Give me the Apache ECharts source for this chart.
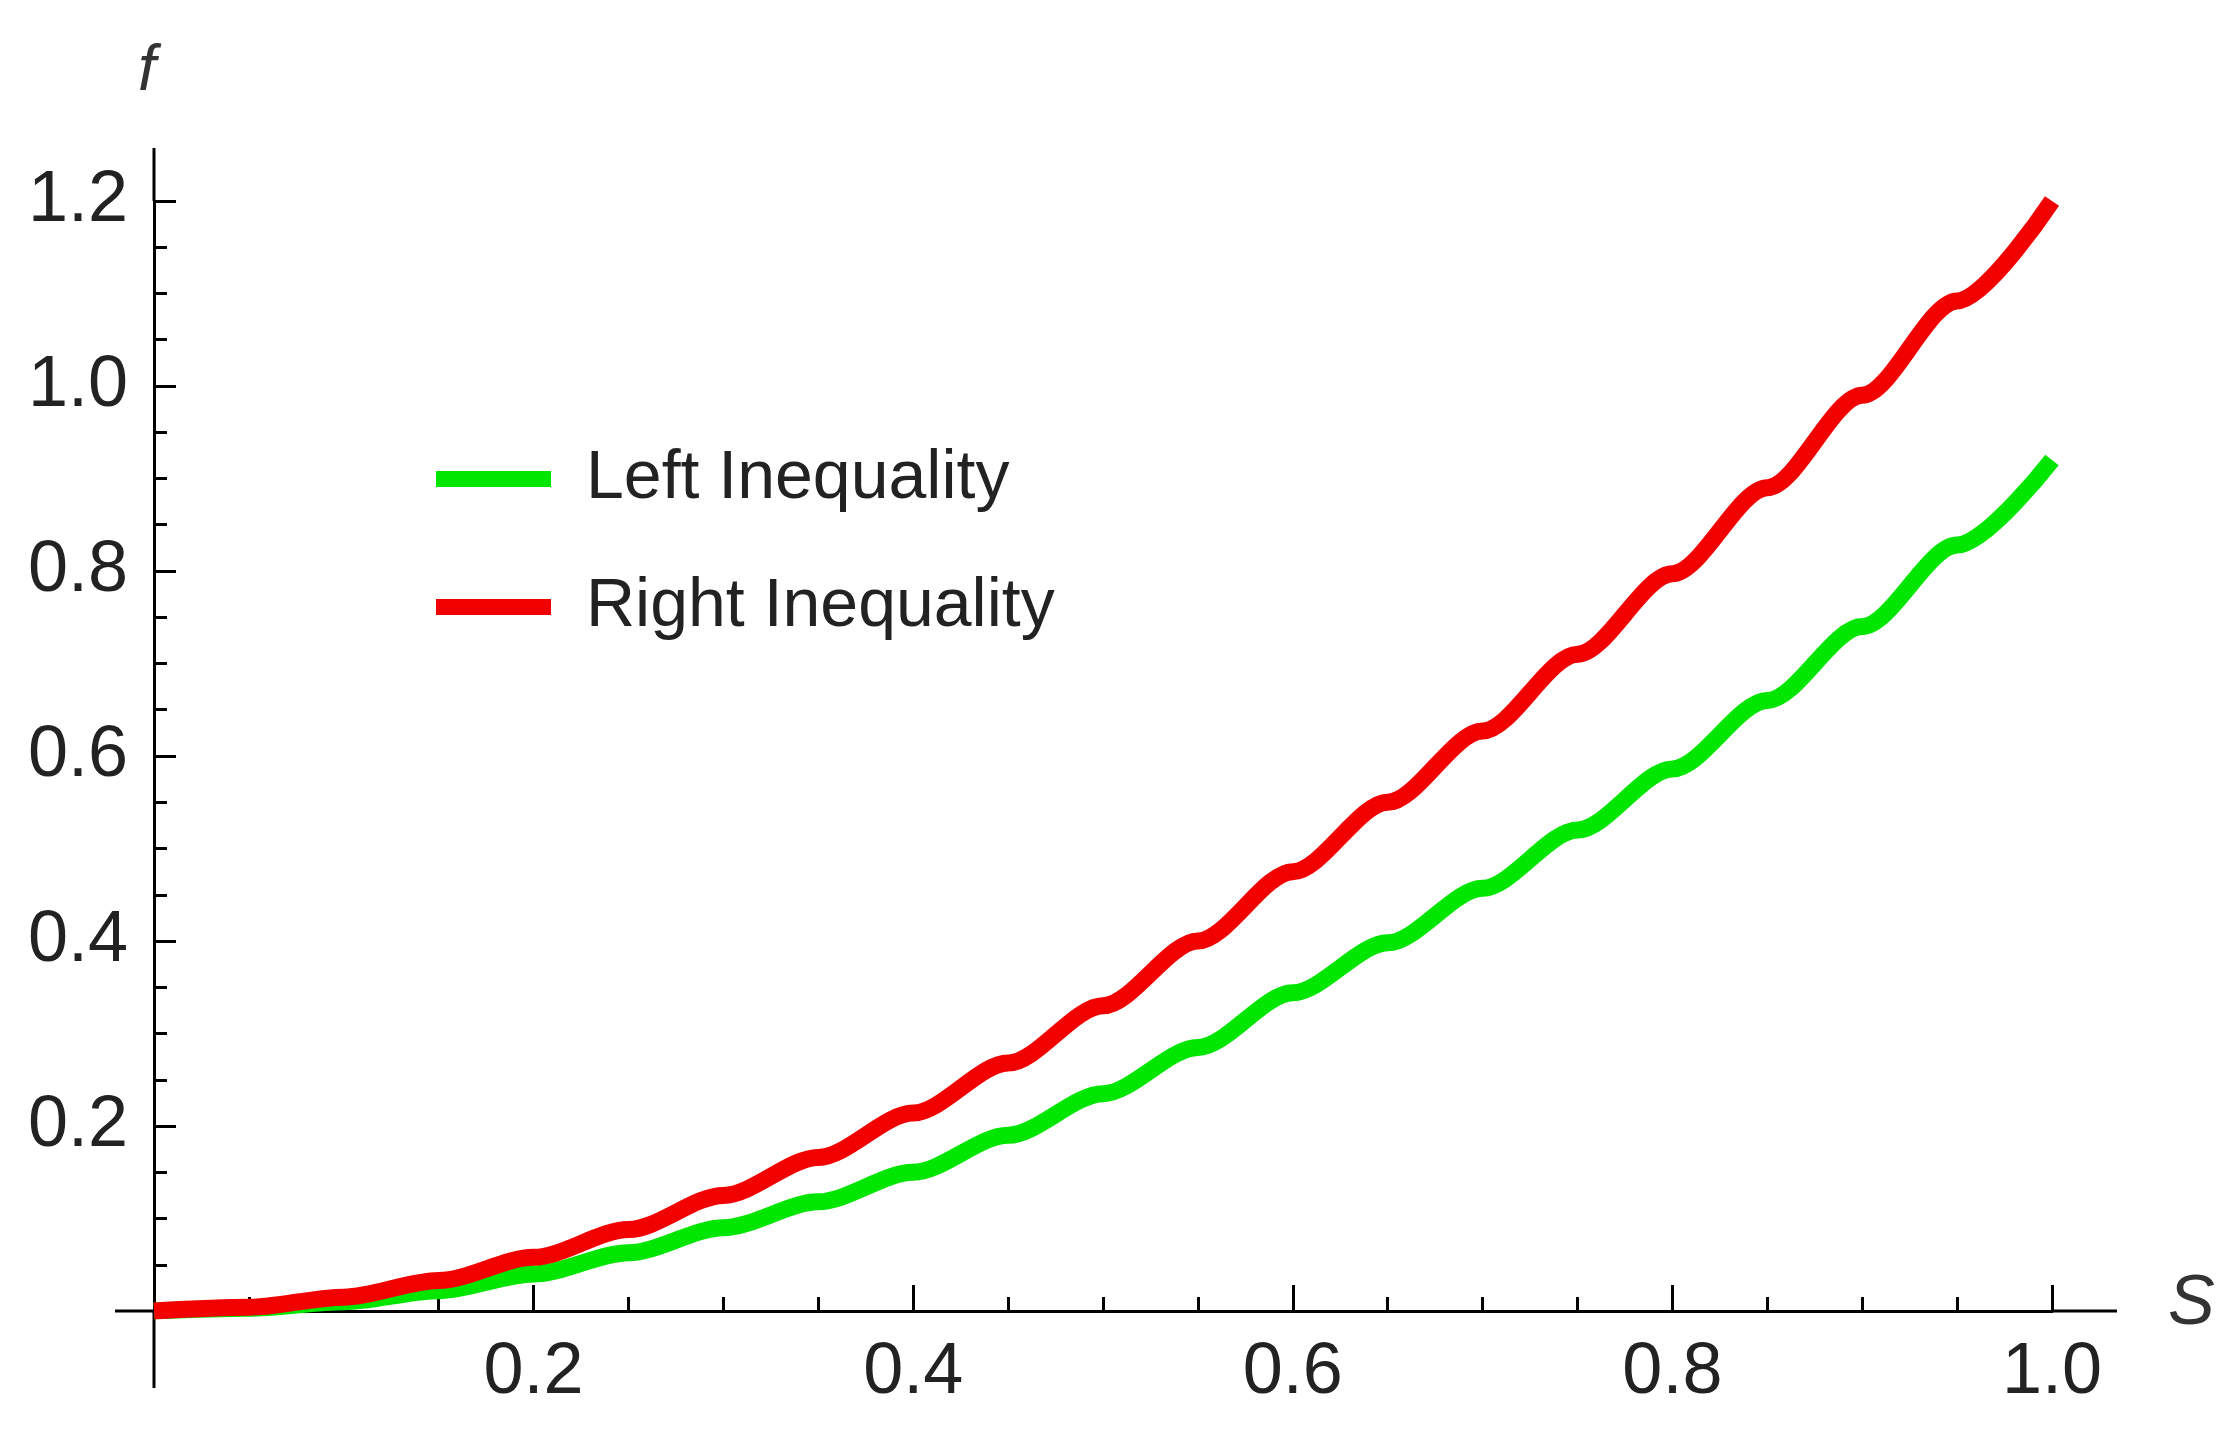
<!DOCTYPE html>
<html>
<head>
<meta charset="utf-8">
<script src="https://cdn.jsdelivr.net/npm/echarts@6/dist/echarts.min.js"></script>
<style>html,body{margin:0;background:#fff}#chart{width:2222px;height:1445px}</style>
</head>
<body>
<div id="chart"></div>
<script>
// values
var sVals = [0, 0.05, 0.1, 0.15, 0.2, 0.25, 0.3, 0.35, 0.4, 0.45, 0.5, 0.55, 0.6, 0.65, 0.7, 0.75, 0.8, 0.85, 0.9, 0.95, 1.0];
var leftIneq = [0, 0.003, 0.01, 0.022, 0.04, 0.063, 0.09, 0.118, 0.15, 0.19, 0.235, 0.285, 0.344, 0.398, 0.457, 0.52, 0.586, 0.66, 0.74, 0.828, 0.92];
var rightIneq = [0, 0.004, 0.015, 0.033, 0.058, 0.088, 0.125, 0.166, 0.214, 0.268, 0.33, 0.4, 0.475, 0.55, 0.627, 0.71, 0.797, 0.89, 0.99, 1.092, 1.2];
var xTicks = [0.2, 0.4, 0.6, 0.8, 1.0];
var yTicks = [0.2, 0.4, 0.6, 0.8, 1.0, 1.2];

function pairs(ys){
	var out = [];
	for(var i=0;i<sVals.length;i++){ out.push([sVals[i], ys[i]]); }
	return out;
}
function lbl(list){
	return function(v){
		for(var i=0;i<list.length;i++){ if(Math.abs(list[i]-v)<1e-6) return v.toFixed(1); }
		return '';
	};
}
var font = 'Liberation Sans';
var chart = echarts.init(document.getElementById('chart'));
var axisStyle = {lineStyle:{color:'#000',width:3}};
var option = {
	animation:false,
	grid:{left:154, right:170, top:201, bottom:134},
	legend:{
		orient:'vertical', left:431, top:440, itemWidth:115, itemHeight:16, itemGap:60,
		icon:'rect',
		textStyle:{fontFamily:font, fontSize:68, color:'#222', padding:[0,0,0,30]},
		data:['Left Inequality','Right Inequality']
	},
	xAxis:{
		type:'value', min:0, max:1, interval:0.2,
		axisLine:axisStyle,
		axisTick:{inside:true, length:26, lineStyle:{color:'#000',width:3}},
		minorTick:{show:true, splitNumber:4, length:14, lineStyle:{color:'#000',width:3}},
		splitLine:{show:false},
		axisLabel:{formatter:lbl(xTicks), fontFamily:font, fontSize:72, color:'#222', margin:26}
	},
	yAxis:{
		type:'value', min:0, max:1.2, interval:0.2,
		axisLine:axisStyle,
		axisTick:{inside:true, length:22, lineStyle:{color:'#000',width:3}},
		minorTick:{show:true, splitNumber:4, length:13, lineStyle:{color:'#000',width:3}},
		splitLine:{show:false},
		axisLabel:{formatter:lbl(yTicks), fontFamily:font, fontSize:72, color:'#222', margin:26}
	},
	graphic:[
		{type:'line', shape:{x1:115,y1:1311,x2:154,y2:1311}, style:{stroke:'#000',lineWidth:3}},
		{type:'line', shape:{x1:2052,y1:1311,x2:2117,y2:1311}, style:{stroke:'#000',lineWidth:3}},
		{type:'line', shape:{x1:154,y1:148,x2:154,y2:201}, style:{stroke:'#000',lineWidth:3}},
		{type:'line', shape:{x1:154,y1:1311,x2:154,y2:1388}, style:{stroke:'#000',lineWidth:3}},
		{type:'text', left:138, top:40, style:{text:'f', font:'italic 64px "Liberation Sans"', fill:'#333'}},
		{type:'text', left:2168, top:1270, style:{text:'S', font:'italic 70px "Liberation Sans"', fill:'#333'}}
	],
	series:[
		{name:'Left Inequality', type:'line', smooth:0.3, smoothMonotone:'x', showSymbol:false, data:pairs(leftIneq),
			itemStyle:{color:'#00e600'}, lineStyle:{color:'#00e600', width:17}},
		{name:'Right Inequality', type:'line', smooth:0.3, smoothMonotone:'x', showSymbol:false, data:pairs(rightIneq),
			itemStyle:{color:'#f20000'}, lineStyle:{color:'#f20000', width:17}}
	]
};
chart.setOption(option);
</script>
</body>
</html>
